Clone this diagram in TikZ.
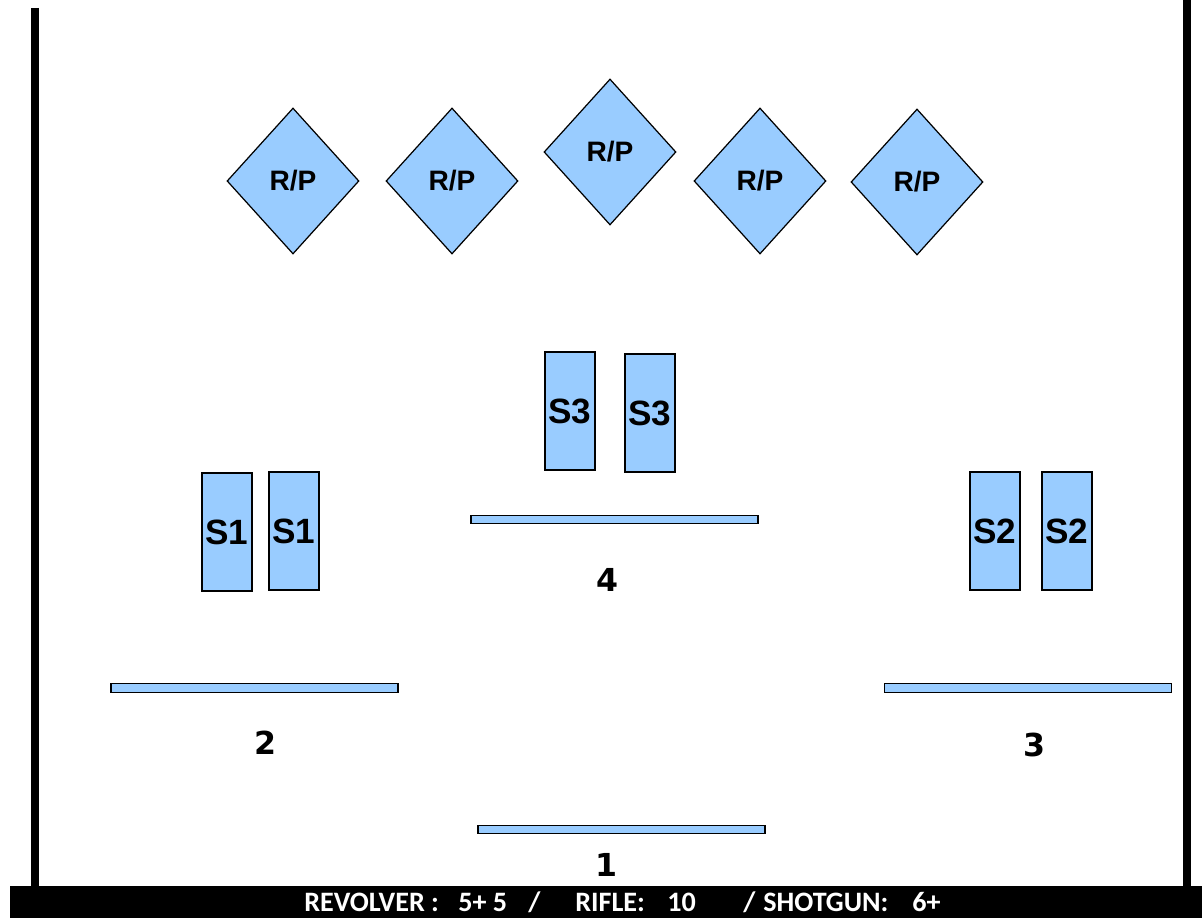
\documentclass[tikz,border=0pt]{standalone}
\usepackage{fontspec}
\setmainfont{Liberation Sans}
\newfontfamily\barfont{Carlito}
\newfontfamily\numfont{DejaVu Sans}
\usetikzlibrary{shapes.geometric}
\definecolor{targetblue}{RGB}{153,204,255}
\tikzset{
  rptarget/.style={diamond,draw=black,line width=0.7pt,fill=targetblue,inner sep=0pt,minimum width=2.64cm,minimum height=2.92cm,font=\fontsize{16}{18}\selectfont\bfseries},
  starget/.style={rectangle,draw=black,line width=0.7pt,fill=targetblue,inner sep=0pt,minimum width=1cm,minimum height=2.36cm,font=\fontsize{20}{22}\selectfont\bfseries},
  bench/.style={rectangle,draw=black,line width=0.7pt,fill=targetblue,inner sep=0pt,minimum width=5.74cm,minimum height=0.17cm},
  posnum/.style={font=\numfont\fontsize{18}{20}\selectfont\bfseries,inner sep=0pt}
}
\begin{document}
\begin{tikzpicture}[x=0.02cm,y=-0.02cm]
                          \useasboundingbox (0,0) rectangle (1202,918);
                          % walls
                          \draw[line width=4.6pt,black](35,8)--(35,887);
                          \draw[line width=4.8pt,black](1187,0)--(1187,887);
                          % poppers
                          \node[rptarget] (rp1) at (293,181) {R/P};
                          \node[rptarget] (rp2) at (452,181) {R/P};
                          \node[rptarget] (rp3) at (610,152) {R/P};
                          \node[rptarget] (rp4) at (760,181) {R/P};
                          \node[rptarget] (rp5) at (917,182) {R/P};
                          % steel
                          \node[starget] (s1a) at (227,532) {S1};
                          \node[starget] (s1b) at (294,531) {S1};
                          \node[starget] (s3a) at (570,411) {S3};
                          \node[starget] (s3b) at (650,413) {S3};
                          \node[starget] (s2a) at (995,531) {S2};
                          \node[starget] (s2b) at (1067,531) {S2};
                          % shooting positions
                          \node[bench] (b4) at (614.5,519.5) {};
                          \node[bench] (b2) at (254.5,688) {};
                          \node[bench] (b3) at (1028,688) {};
                          \node[bench] (b1) at (621.5,829.5) {};
                          \node[posnum] (n4) at (607,580) {4};
                          \node[posnum] (n2) at (265,743) {2};
                          \node[posnum] (n3) at (1034,745) {3};
                          \node[posnum] (n1) at (606,865) {1};
                          % round count
                          \fill[black] (10,886) rectangle (1202,918);
                          \node[anchor=base west,inner sep=0pt,text=white,font=\barfont\fontsize{16}{18}\selectfont\bfseries] (count) at (304,911)
                            {\makebox[3.08cm][l]{REVOLVER :}\makebox[1.4cm][l]{5+ 5}\makebox[0.94cm][l]{/}\makebox[1.84cm][l]{RIFLE:}\makebox[1.52cm][l]{10}\makebox[0.4cm][l]{/}\makebox[2.98cm][l]{SHOTGUN:}6+};
                        \end{tikzpicture}
\end{document}
